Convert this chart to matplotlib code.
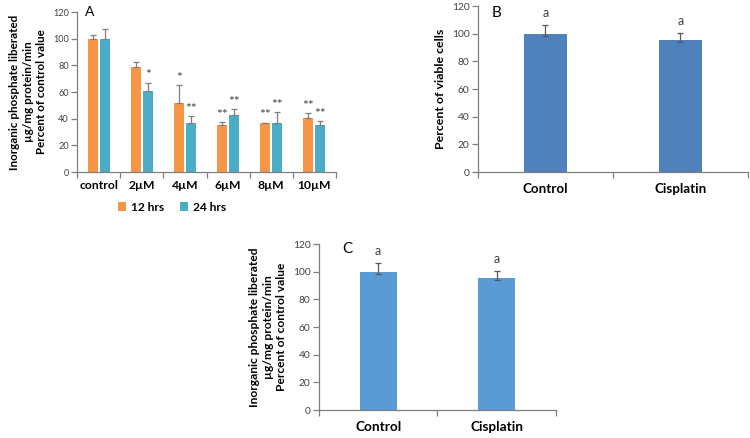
import matplotlib
matplotlib.use("Agg")
import matplotlib.pyplot as plt
import numpy as np

plt.rcParams['font.family'] = ['Lato', 'DejaVu Sans']

# Panel A data
cats_a = ["control", "2\u00b5M", "4\u00b5M", "6\u00b5M", "8\u00b5M", "10\u00b5M"]
h12 = [100, 78.5, 52, 35, 36.5, 40.5]
h12_err = [2.5, 4, 13, 2.5, 0.5, 3.5]
h24 = [100, 61, 37, 43, 37, 35]
h24_err = [7, 6, 5, 4, 8, 3]
sig12 = ["", "", "*", "**", "**", "**"]
sig24 = ["", "*", "**", "**", "**", "**"]

# Panel B data
cats_b = ["Control", "Cisplatin"]
viable = [100, 95.5]
viable_err_lo = [1.5, 1.5]
viable_err_hi = [6.5, 5]
sig_b = ["a", "a"]

# Panel C data
cats_c = ["Control", "Cisplatin"]
pi_c = [100, 95.5]
pi_c_err_lo = [1.5, 1.5]
pi_c_err_hi = [6.5, 5]
sig_c = ["a", "a"]

ORANGE = "#F79646"
TEAL = "#4BACC6"
BLUE_B = "#4F81BD"
BLUE_C = "#5B9BD5"
ERR = "#7F7F7F"
AX = "#7F7F7F"

fig = plt.figure(figsize=(7.5, 4.38), dpi=100)

def style_axis(ax, n):
    ax.set_xlim(-0.5, n - 0.5)
    ax.set_ylim(0, 120)
    ax.set_yticks(np.arange(0, 121, 20))
    for s in ["top", "right"]:
        ax.spines[s].set_visible(False)
    for s in ["left", "bottom"]:
        ax.spines[s].set_color(AX)
        ax.spines[s].set_linewidth(0.9)
    ax.set_xticks(np.arange(n))
    ax.set_xticks(np.arange(-0.5, n, 1.0), minor=True)
    ax.tick_params(axis='x', which='major', length=0, pad=6)
    ax.tick_params(axis='x', which='minor', length=4, color=AX, width=0.9, direction='out')
    ax.tick_params(axis='y', length=4, color=AX, width=0.9, direction='out', labelsize=8, pad=2, labelcolor='#404040')

# ---- Panel A ----
axA = fig.add_axes([0.1027, 0.6073, 0.3453, 0.3653])
x = np.arange(len(cats_a))
w = 0.23
off = 0.14
axA.bar(x - off, h12, w, color=ORANGE, label="12 hrs", zorder=2)
axA.bar(x + off, h24, w, color=TEAL, label="24 hrs", zorder=2)
axA.errorbar(x - off, h12, yerr=[np.zeros(len(h12)), h12_err], fmt='none',
             ecolor=ERR, elinewidth=0.9, capsize=2, capthick=0.9, zorder=3)
axA.errorbar(x + off, h24, yerr=[np.zeros(len(h24)), h24_err], fmt='none',
             ecolor=ERR, elinewidth=0.9, capsize=2, capthick=0.9, zorder=3)
for i in range(len(cats_a)):
    if sig12[i]:
        axA.text(x[i] - off, h12[i] + h12_err[i] + 1.0, sig12[i], ha='center', va='bottom',
                 fontsize=10, color='#404040')
    if sig24[i]:
        axA.text(x[i] + off, h24[i] + h24_err[i] + 1.0, sig24[i], ha='center', va='bottom',
                 fontsize=10, color='#404040')
style_axis(axA, len(cats_a))
axA.set_xticklabels(cats_a, fontsize=9, fontweight='bold')
axA.set_ylabel("Inorganic phosphate liberated\n\u00b5g/mg protein/min\nPercent of control value",
               fontsize=8.5, fontweight='bold', linespacing=1.3, labelpad=4)
axA.text(0.03, 1.0, "A", transform=axA.transAxes, fontsize=10, ha='left', va='center')
legA = axA.legend(loc='center', bbox_to_anchor=(0.367, -0.22), ncol=2, frameon=False,
                  handlelength=0.7, handleheight=0.7, handletextpad=0.4, columnspacing=1.2,
                  prop={'size': 9, 'weight': 'bold'})

# ---- Panel B ----
axB = fig.add_axes([0.6373, 0.6073, 0.3597, 0.379])
xb = np.arange(len(cats_b))
axB.bar(xb, viable, 0.32, color=BLUE_B, zorder=2)
axB.errorbar(xb, viable, yerr=[viable_err_lo, viable_err_hi], fmt='none',
             ecolor='#595959', elinewidth=0.9, capsize=2, capthick=0.9, zorder=3)
for i in range(len(cats_b)):
    axB.text(xb[i], viable[i] + viable_err_hi[i] + 4, sig_b[i], ha='center', va='bottom',
             fontsize=9, color='#404040')
style_axis(axB, len(cats_b))
axB.set_xticklabels(cats_b, fontsize=10, fontweight='bold')
axB.tick_params(axis='x', which='major', pad=8)
axB.set_ylabel("Percent of viable cells", fontsize=9, fontweight='bold', labelpad=4)
axB.text(0.05, 0.96, "B", transform=axB.transAxes, fontsize=11, ha='left', va='center')

# ---- Panel C ----
axC = fig.add_axes([0.4253, 0.0639, 0.316, 0.379])
xc = np.arange(len(cats_c))
axC.bar(xc, pi_c, 0.31, color=BLUE_C, zorder=2)
axC.errorbar(xc, pi_c, yerr=[pi_c_err_lo, pi_c_err_hi], fmt='none',
             ecolor='#595959', elinewidth=0.9, capsize=2, capthick=0.9, zorder=3)
for i in range(len(cats_c)):
    axC.text(xc[i], pi_c[i] + pi_c_err_hi[i] + 4, sig_c[i], ha='center', va='bottom',
             fontsize=9, color='#404040')
style_axis(axC, len(cats_c))
axC.set_xticklabels(cats_c, fontsize=10, fontweight='bold')
axC.tick_params(axis='x', which='major', pad=8)
axC.set_ylabel("Inorganic phosphate liberated\n\u00b5g/mg protein/min\nPercent of control value",
               fontsize=9, fontweight='bold', linespacing=1.3, labelpad=4)
axC.text(0.1, 0.97, "C", transform=axC.transAxes, fontsize=11, ha='left', va='center')

# ---- fit font sizes to measured reference text extents (pixels) ----
fig.canvas.draw()
renderer = fig.canvas.get_renderer()

def fit(t, target, dim):
    bb = t.get_window_extent(renderer)
    cur = bb.width if dim == 'w' else bb.height
    if cur > 0:
        t.set_fontsize(t.get_fontsize() * target / cur)
    return t.get_fontsize()

for ax, ytw, xtw, ylh in [(axA, 16, 39, 154), (axB, 18, 45, 120), (axC, 18, 46, 160)]:
    yl = ax.get_yticklabels()
    s = fit(yl[-1], ytw, 'w')
    ax.tick_params(axis='y', labelsize=s)
    xl = ax.get_xticklabels()
    s = fit(xl[0], xtw, 'w')
    ax.tick_params(axis='x', which='major', labelsize=s)
    fit(ax.yaxis.label, ylh, 'h')

lt = legA.get_texts()
s = fit(lt[0], 33, 'w')
for t in lt:
    t.set_fontsize(s)

fig.savefig("out.png", dpi=100)
